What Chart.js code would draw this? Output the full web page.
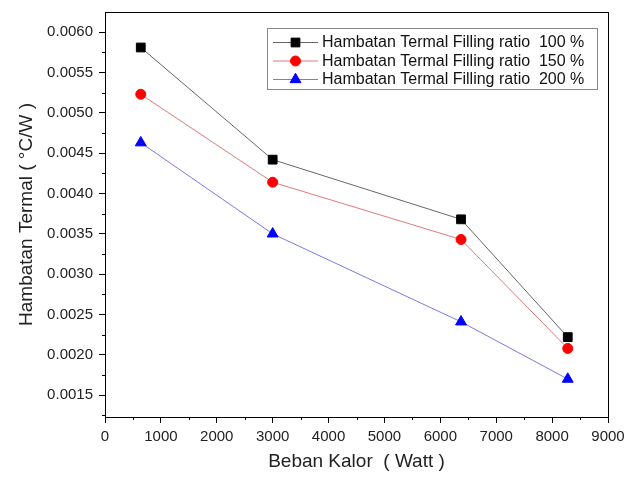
<!DOCTYPE html>
<html>
<head>
<meta charset="utf-8">
<script src="https://cdn.jsdelivr.net/npm/chart.js@4"></script>
<style>
  html, body { margin: 0; padding: 0; background: #fff; }
  #wrap { width: 638px; height: 477px; }
</style>
</head>
<body>
<div id="wrap"><canvas id="c" width="638" height="477"></canvas></div>
<script>
const bebanKalor = [640, 3000, 6370, 8280];
const ratio100 = [0.00581, 0.00442, 0.00368, 0.00222];
const ratio150 = [0.00523, 0.00414, 0.00343, 0.00208];
const ratio200 = [0.00463, 0.00350, 0.00241, 0.00170];
const seriesLabels = [
  'Hambatan Termal Filling ratio  100 %',
  'Hambatan Termal Filling ratio  150 %',
  'Hambatan Termal Filling ratio  200 %'
];
const xTitle = 'Beban Kalor  ( Watt )';
const yTitle = 'Hambatan Termal ( \u00B0C/W )';

const FONT = "'Liberation Sans', Arial, sans-serif";
const toXY = (vals) => vals.map((v, i) => ({ x: bebanKalor[i], y: v }));

const frameAndMinor = {
  id: 'frameAndMinor',
  afterDraw(chart) {
    const { ctx, chartArea: a, scales } = chart;
    ctx.save();
    ctx.strokeStyle = '#000';
    ctx.lineWidth = 1;
    ctx.strokeRect(Math.round(a.left) + 0.5, Math.round(a.top) + 0.5,
                   Math.round(a.right - a.left), Math.round(a.bottom - a.top));
    // minor ticks
    ctx.beginPath();
    for (let v = 500; v < 9000; v += 1000) {
      const px = Math.round(scales.x.getPixelForValue(v)) + 0.5;
      ctx.moveTo(px, a.bottom); ctx.lineTo(px, a.bottom + 3);
    }
    for (let v = 0.00125; v < 0.0062; v += 0.0005) {
      const py = Math.round(scales.y.getPixelForValue(v)) + 0.5;
      ctx.moveTo(a.left, py); ctx.lineTo(a.left - 3, py);
    }
    ctx.stroke();
    // legend
    const lx = 267, ly = 28, lw = 330, lh = 61;
    ctx.strokeStyle = '#888';
    ctx.strokeRect(lx + 0.5, ly + 0.5, lw, lh);
    chart.data.datasets.forEach((ds, i) => {
      const cy = 42 + i * 18.5;
      ctx.strokeStyle = ds.borderColor;
      ctx.lineWidth = 1;
      ctx.beginPath();
      ctx.moveTo(273, cy + 0.5); ctx.lineTo(318, cy + 0.5);
      ctx.stroke();
      ctx.fillStyle = ds.pointBackgroundColor;
      ctx.strokeStyle = ds.pointBorderColor;
      Chart.helpers.drawPoint(ctx, {
        pointStyle: ds.pointStyle, radius: ds.pointRadius, borderWidth: 1
      }, 295.5, cy + 0.5);
      ctx.fillStyle = '#111';
      ctx.font = '16px ' + FONT;
      ctx.textBaseline = 'middle';
      ctx.textAlign = 'left';
      ctx.fillText(ds.label, 322, cy + 1);
    });
    ctx.restore();
  }
};

function mkDs(label, data, line, pt, style, r) {
  return {
    label, data: toXY(data), showLine: true,
    borderColor: line, borderWidth: 1,
    pointStyle: style, pointRadius: r, pointHoverRadius: r,
    pointBackgroundColor: pt, pointBorderColor: pt, pointBorderWidth: 1,
    fill: false, tension: 0
  };
}

new Chart(document.getElementById('c'), {
  type: 'scatter',
  data: {
    datasets: [
      mkDs(seriesLabels[0], ratio100, '#666666', '#000000', 'rect', 6.2),
      mkDs(seriesLabels[1], ratio150, '#e07a7a', '#ff0000', 'circle', 5),
      mkDs(seriesLabels[2], ratio200, '#7a7ae0', '#0000ff', 'triangle', 6.3)
    ]
  },
  options: {
    responsive: false,
    animation: false,
    devicePixelRatio: 1,
    layout: { padding: { left: 15, top: 12, right: 30, bottom: 0 } },
    plugins: { legend: { display: false }, tooltip: { enabled: false } },
    scales: {
      x: {
        type: 'linear', min: 0, max: 9000,
        afterFit(s) { s.height = 60; },
        ticks: { stepSize: 1000, color: '#222', font: { family: FONT, size: 15 }, padding: 5, maxRotation: 0,
                 callback: v => String(v) },
        grid: { drawOnChartArea: false, tickLength: 6, color: '#000' },
        border: { display: true, color: '#000' },
        title: { display: true, text: xTitle, color: '#222', font: { family: FONT, size: 19 }, padding: { top: 5 } }
      },
      y: {
        type: 'linear', min: 0.00123, max: 0.00625,
        afterFit(s) { s.width = 90; s.paddingTop = 0; s.paddingBottom = 0; },
        ticks: { stepSize: 0.0005, includeBounds: false, color: '#222', font: { family: FONT, size: 15 }, padding: 6,
                 callback: v => Number(v).toFixed(4) },
        grid: { drawOnChartArea: false, tickLength: 6, color: '#000' },
        border: { display: true, color: '#000' },
        title: { display: true, text: yTitle, color: '#222', font: { family: FONT, size: 19 }, padding: { top: 0, bottom: 4 } }
      }
    }
  },
  plugins: [frameAndMinor]
});
</script>
</body>
</html>
